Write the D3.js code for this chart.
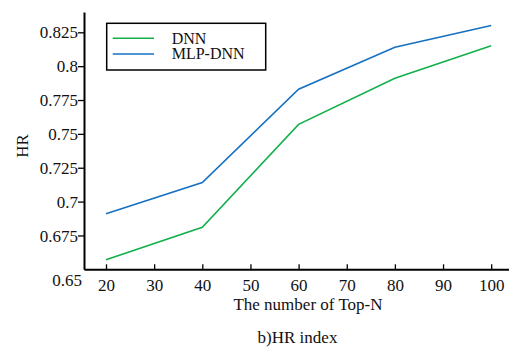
<!DOCTYPE html>
<html>
<head>
<meta charset="utf-8">
<script src="https://cdn.jsdelivr.net/npm/d3@7"></script>
<style>
  body { margin: 0; background: #fff; }
  svg { display: block; }
  svg text { font-family: "Liberation Serif", "DejaVu Serif", serif; }
</style>
</head>
<body>
<div class="chart"></div>
<script>
(() => {
  const topN = [20, 40, 60, 80, 100];
  const dnn = [0.657, 0.681, 0.757, 0.791, 0.815];
  const mlpDnn = [0.691, 0.714, 0.783, 0.814, 0.830];
  const xTicks = [20, 30, 40, 50, 60, 70, 80, 90, 100];
  const yTicks = [0.65, 0.675, 0.7, 0.725, 0.75, 0.775, 0.8, 0.825];
  const yTickLabels = ["0.65", "0.675", "0.7", "0.725", "0.75", "0.775", "0.8", "0.825"];

  const series = [
    { name: "DNN", values: dnn, color: "#12b04c" },
    { name: "MLP-DNN", values: mlpDnn, color: "#1670c2" },
  ];

  const width = 509, height = 348;
  const left = 84, bottom = 269.3, top = 12;

  const svg = d3
    .select(".chart")
    .append("svg")
    .attr("width", width)
    .attr("height", height);

  const x = d3.scaleLinear().domain([15.43, 103.7]).range([left, width]);
  const y = d3.scaleLinear().domain([0.65, 0.84]).range([bottom, top]);

  // x axis, ticks pointing inward
  const xAxis = svg
    .append("g")
    .attr("transform", `translate(0,${bottom})`)
    .call(d3.axisBottom(x).tickValues(xTicks).tickSize(-5).tickSizeOuter(0))
    .attr("font-family", null)
    .attr("font-size", null);
  xAxis.select(".domain").attr("stroke", "#000").attr("stroke-width", 2);
  xAxis.selectAll("line").attr("stroke-width", 1.3);
  xAxis
    .selectAll("text")
    .attr("y", 22)
    .attr("dy", 0)
    .style("font-size", "17px")
    .attr("fill", "#111");

  // y axis
  const yAxis = svg
    .append("g")
    .attr("transform", `translate(${left},0)`)
    .call(
      d3
        .axisLeft(y)
        .tickValues(yTicks)
        .tickFormat((d, i) => yTickLabels[i])
        .tickSize(6)
        .tickSizeOuter(0)
    )
    .attr("font-family", null)
    .attr("font-size", null);
  yAxis.select(".domain").attr("stroke", "#000").attr("stroke-width", 2);
  yAxis.selectAll("line").attr("stroke-width", 1.3);
  yAxis
    .selectAll("text")
    .attr("x", -6)
    .attr("dy", "0.33em")
    .style("font-size", "17px")
    .attr("fill", "#111");
  // bottom label sits below the corner, like the original
  yAxis
    .selectAll(".tick")
    .filter((d) => d === 0.65)
    .select("text")
    .attr("x", -2)
    .attr("dy", "0.93em");
  yAxis.selectAll(".tick").filter((d) => d === 0.65).select("line").remove();

  // lines
  const line = d3
    .line()
    .x((d, i) => x(topN[i]))
    .y((d) => y(d));

  svg
    .selectAll(".series")
    .data(series)
    .enter()
    .append("path")
    .attr("class", "series")
    .attr("d", (s) => line(s.values))
    .attr("fill", "none")
    .attr("stroke", (s) => s.color)
    .attr("stroke-width", 1.6);

  // legend
  const legend = svg.append("g").attr("transform", "translate(106.7,23.3)");
  legend
    .append("rect")
    .attr("width", 159)
    .attr("height", 46.7)
    .attr("fill", "#fff")
    .attr("stroke", "#000")
    .attr("stroke-width", 1.5);
  series.forEach((s, i) => {
    const ly = 15 + i * 15.7;
    legend
      .append("line")
      .attr("x1", 6)
      .attr("x2", 47.3)
      .attr("y1", ly)
      .attr("y2", ly)
      .attr("stroke", s.color)
      .attr("stroke-width", 1.6);
    legend
      .append("text")
      .attr("x", 65)
      .attr("y", ly + 5.5)
      .style("font-size", "16px")
      .attr("fill", "#111")
      .text(s.name);
  });

  // axis titles
  svg
    .append("text")
    .attr("x", 308)
    .attr("y", 310)
    .attr("text-anchor", "middle")
    .style("font-size", "17px")
    .attr("fill", "#111")
    .text("The number of Top-N");

  svg
    .append("text")
    .attr("transform", "translate(27.5,146) rotate(-90)")
    .attr("text-anchor", "middle")
    .style("font-size", "17px")
    .attr("fill", "#111")
    .text("HR");

  svg
    .append("text")
    .attr("x", 297.5)
    .attr("y", 343)
    .attr("text-anchor", "middle")
    .style("font-size", "17px")
    .attr("fill", "#111")
    .text("b)HR index");
})();
</script>
</body>
</html>
